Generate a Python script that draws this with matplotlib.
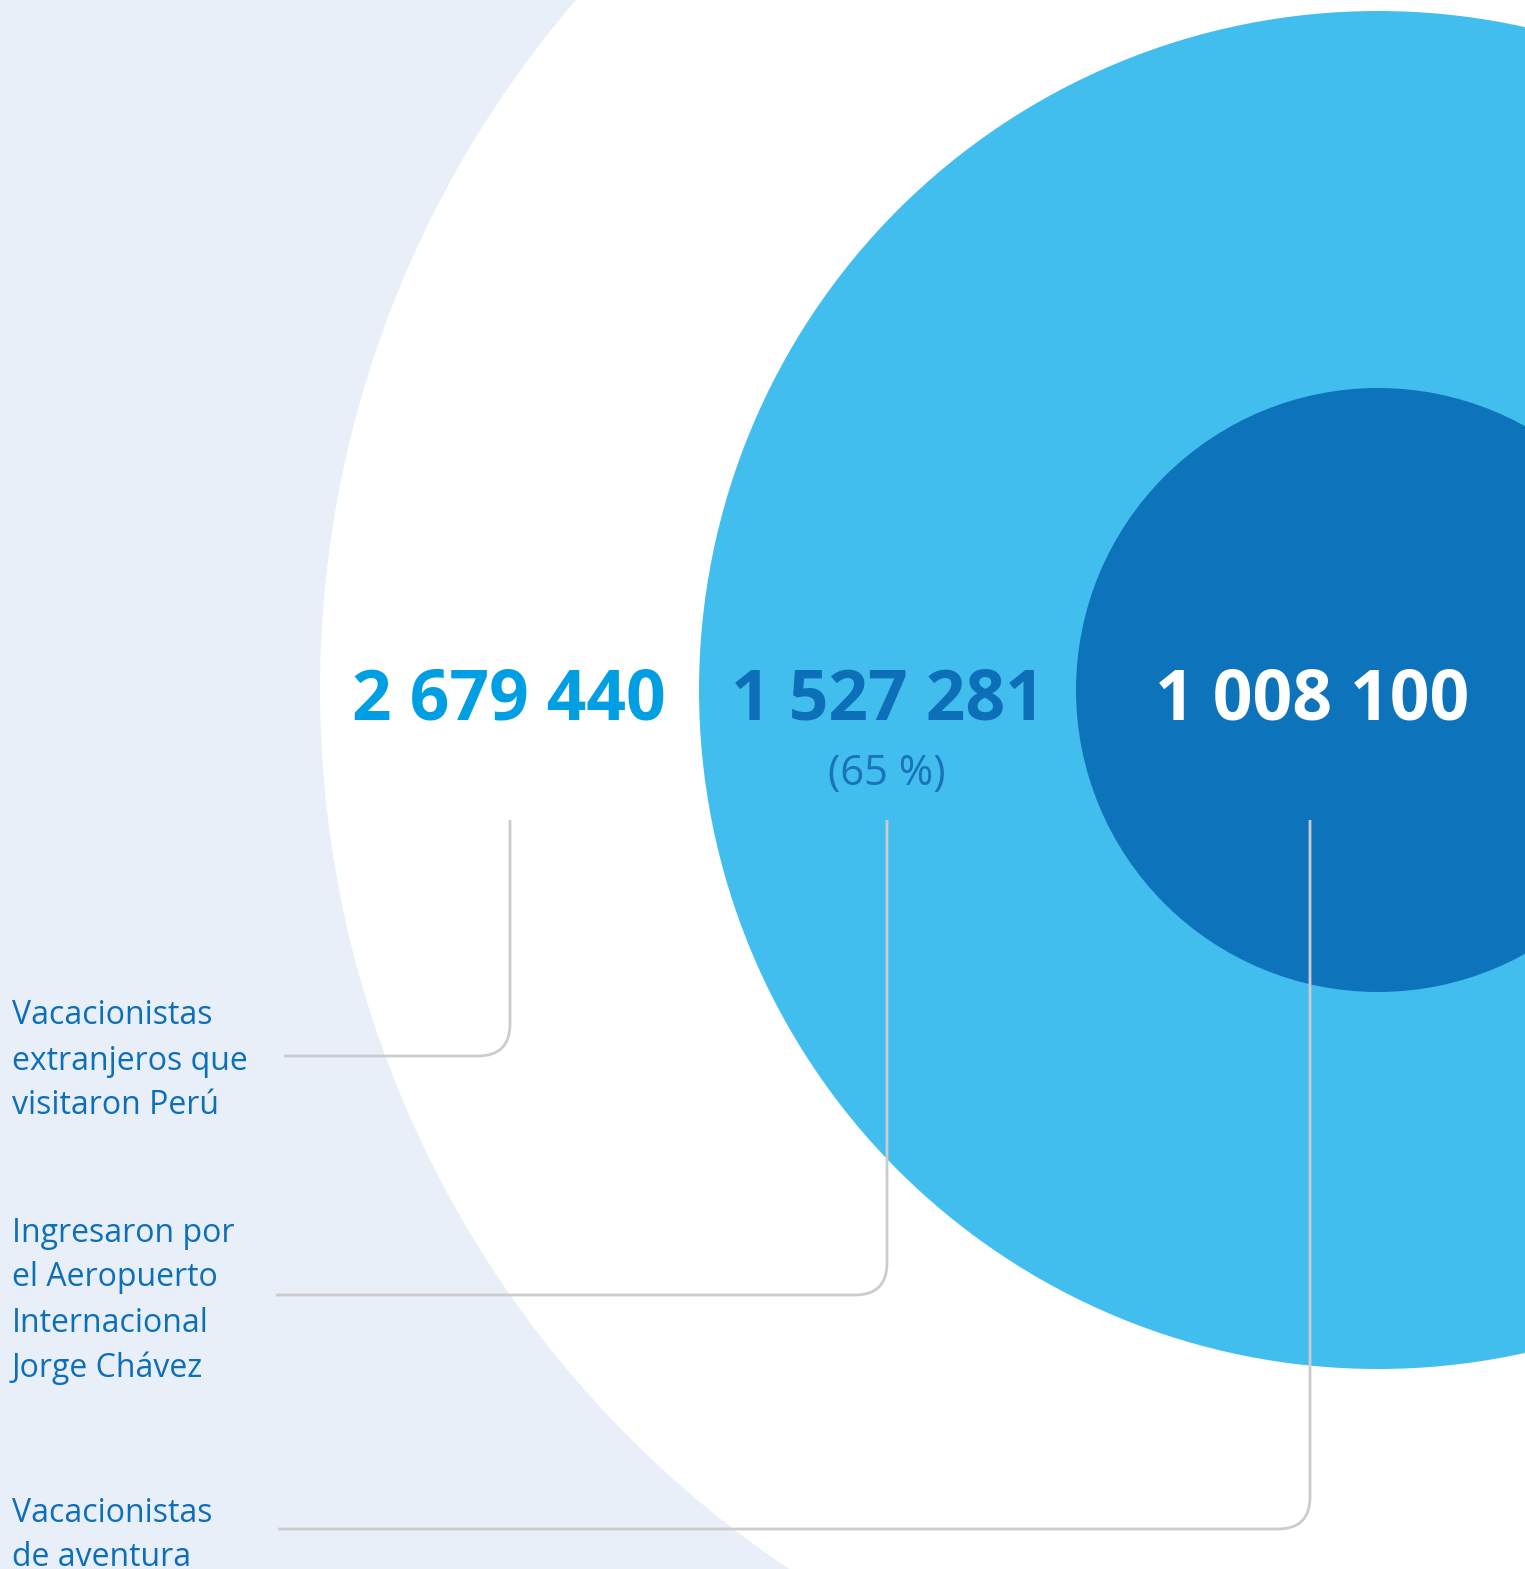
import matplotlib
matplotlib.use("Agg")
import matplotlib.pyplot as plt
from matplotlib.patches import Circle, PathPatch
from matplotlib.path import Path

# data
values = ["2 679 440", "1 527 281", "1 008 100"]
share = "(65 %)"
labels = [
    "Vacacionistas\nextranjeros que\nvisitaron Perú",
    "Ingresaron por\nel Aeropuerto\nInternacional\nJorge Chávez",
    "Vacacionistas\nde aventura",
]

# layout (pixel coordinates of the canvas)
W, H = 1525, 1569
cx, cy = 1378, 690
radii = [1058, 679, 302]
circle_colors = ["#FFFFFF", "#42BEEE", "#0D73BB"]
value_colors = ["#009FE3", "#0D6FB8", "#FFFFFF"]
value_x = [509, 888, 1312]
line_x = [510, 887, 1310]
line_y = [1056, 1295, 1529]
line_left = [284, 276, 278]
label_top = [1016, 1233, 1513]

fig = plt.figure(figsize=(W / 100, H / 100), dpi=100)
fig.patch.set_facecolor("#E9EFF9")
ax = fig.add_axes([0, 0, 1, 1])
ax.set_xlim(0, W)
ax.set_ylim(H, 0)
ax.axis("off")

for r, c in zip(radii, circle_colors):
    ax.add_patch(Circle((cx, cy), r, color=c, lw=0))

for v, x, c in zip(values, value_x, value_colors):
    ax.text(x, 719, v, ha="center", va="baseline", fontsize=50,
            fontweight="bold", color=c, family="Open Sans")

ax.text(887, 785, share, ha="center", va="baseline", fontsize=30,
        color="#1A72BA", family="Open Sans")

# connectors with rounded corner
rc = 32
for x, y, xl in zip(line_x, line_y, line_left):
    verts = [(x, 820), (x, y - rc), (x, y), (x - rc, y), (xl, y)]
    codes = [Path.MOVETO, Path.LINETO, Path.CURVE3, Path.CURVE3, Path.LINETO]
    ax.add_patch(PathPatch(Path(verts, codes), fill=False,
                           edgecolor="#CCCCCC", lw=2.0))

for lab, y in zip(labels, label_top):
    for i, line in enumerate(lab.split("\n")):
        ax.text(12, y + i * 45, line, ha="left", va="center", fontsize=23,
                color="#0D6FB8", family="Open Sans")

fig.savefig("out.png", dpi=100, facecolor=fig.get_facecolor())
